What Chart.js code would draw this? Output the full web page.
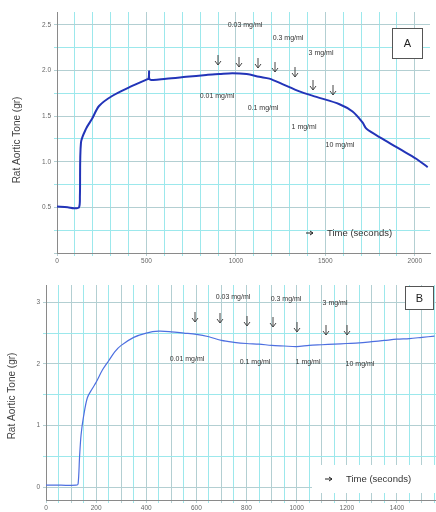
<!DOCTYPE html>
<html lang="en">
  <head>
    <meta charset="UTF-8" />
    <title>Rat aortic tone</title>
    <script src="https://cdn.jsdelivr.net/npm/chart.js"></script>
    <style>
      body { margin: 0; background: #fff; }
      .box { position: absolute; left: 0; width: 436px; }
      #boxA { top: 0; height: 268px; }
      #boxB { top: 270px; height: 242px; }
    </style>
  </head>
  <body>
    <div class="box" id="boxA"><canvas id="chartA"></canvas></div>
    <div class="box" id="boxB"><canvas id="chartB"></canvas></div>
    <script>
      // panel A : time (s) / tone (gr)
      const timeA = [0, 60, 95, 123, 128, 134, 162, 196, 235, 308, 420, 500, 512, 515, 520, 610, 722, 834, 907, 980, 1060, 1131, 1187, 1260, 1355, 1450, 1579, 1652, 1708, 1730, 1820, 1915, 2010, 2072];
      const toneA = [0.51, 0.5, 0.49, 0.5, 0.62, 1.21, 1.36, 1.47, 1.61, 1.72, 1.83, 1.9, 1.91, 1.99, 1.9, 1.91, 1.93, 1.95, 1.96, 1.97, 1.96, 1.93, 1.91, 1.85, 1.77, 1.71, 1.63, 1.55, 1.43, 1.36, 1.25, 1.14, 1.03, 0.94];
      // panel B
      const timeB = [0, 60, 120, 128, 134, 140, 150, 165, 185, 200, 225, 250, 275, 300, 350, 400, 450, 500, 550, 600, 650, 700, 750, 800, 850, 900, 950, 1000, 1050, 1100, 1150, 1200, 1250, 1300, 1350, 1400, 1450, 1500, 1550];
      const toneB = [0.03, 0.03, 0.03, 0.05, 0.5, 0.85, 1.15, 1.45, 1.6, 1.7, 1.9, 2.05, 2.2, 2.3, 2.43, 2.5, 2.53, 2.52, 2.5, 2.48, 2.44, 2.38, 2.35, 2.33, 2.32, 2.3, 2.29, 2.28, 2.3, 2.31, 2.32, 2.33, 2.34, 2.36, 2.38, 2.4, 2.41, 2.43, 2.45];

      const doseTopA = ["0.03 mg/ml", "0.3 mg/ml", "3 mg/ml"];
      const doseLowA = ["0.01 mg/ml", "0.1 mg/ml", "1 mg/ml", "10 mg/ml"];
      const doseTopB = ["0.03 mg/ml", "0.3 mg/ml", "3 mg/ml"];
      const doseLowB = ["0.01 mg/ml", "0.1 mg/ml", "1 mg/ml", "10 mg/ml"];

      const toPts = (xs, ys) => xs.map((x, i) => ({ x: x, y: ys[i] }));

      // annotation layout (canvas pixels)
      const annA = {
        top: [[245, 25], [288, 38], [321, 53]],
        low: [[217, 96], [263, 108], [304, 127], [340, 145]],
        arrows: [[218, 60], [239, 62], [258, 63], [275, 67], [295, 72], [313, 85], [333, 90]],
        panel: { label: "A", x: 392, y: 28, w: 30, h: 30 },
        time: { x: 306, y: 233, clear: false },
        title: { x: 17, y: 140 },
      };
      const annB = {
        top: [[233, 27], [286, 29], [335, 33]],
        low: [[187, 89], [255, 92], [308, 92], [360, 94]],
        arrows: [[195, 47], [220, 48], [247, 51], [273, 52], [297, 57], [326, 60], [347, 60]],
        panel: { label: "B", x: 405, y: 16, w: 28, h: 23 },
        time: { x: 325, y: 209, clear: true },
        title: { x: 12, y: 126 },
      };

      const annotate = (ann, tops, lows) => ({
        id: "notes",
        afterDraw(chart) {
          const c = chart.ctx;
          c.save();
          c.fillStyle = "#333";
          c.font = "7px 'Liberation Sans'";
          c.textAlign = "center";
          c.textBaseline = "middle";
          ann.top.forEach((p, i) => c.fillText(tops[i], p[0], p[1]));
          ann.low.forEach((p, i) => c.fillText(lows[i], p[0], p[1]));
          c.strokeStyle = "#444";
          c.lineWidth = 1;
          ann.arrows.forEach((p) => {
            c.beginPath();
            c.moveTo(p[0], p[1] - 5);
            c.lineTo(p[0], p[1] + 5);
            c.moveTo(p[0] - 3, p[1] + 1);
            c.lineTo(p[0], p[1] + 5);
            c.lineTo(p[0] + 3, p[1] + 1);
            c.stroke();
          });
          const b = ann.panel;
          c.fillStyle = "#fff";
          c.fillRect(b.x, b.y, b.w, b.h);
          c.strokeStyle = "#555";
          c.strokeRect(b.x + 0.5, b.y + 0.5, b.w, b.h);
          c.fillStyle = "#222";
          c.font = "11px 'Liberation Sans'";
          c.fillText(b.label, b.x + b.w / 2 + 0.5, b.y + b.h / 2 + 1);
          const t = ann.time;
          if (t.clear) {
            c.fillStyle = "#fff";
            c.fillRect(t.x - 13, t.y - 14, 124, 28);
          }
          c.strokeStyle = "#222";
          c.beginPath();
          c.moveTo(t.x, t.y);
          c.lineTo(t.x + 7, t.y);
          c.moveTo(t.x + 4, t.y - 2);
          c.lineTo(t.x + 7, t.y);
          c.lineTo(t.x + 4, t.y + 2);
          c.stroke();
          c.fillStyle = "#333";
          c.font = "9.5px 'Liberation Sans'";
          c.textAlign = "left";
          c.fillText("Time (seconds)", t.x + 21, t.y);
          // y axis title
          c.translate(ann.title.x, ann.title.y);
          c.rotate(-Math.PI / 2);
          c.textAlign = "center";
          c.fillStyle = "#444";
          c.font = "10px 'Liberation Sans'";
          c.fillText("Rat Aortic Tone (gr)", 0, 0);
          c.restore();
        },
      });

      const gridColor = (major) => (ctx) =>
        ctx.tick && Math.abs(ctx.tick.value / major - Math.round(ctx.tick.value / major)) < 1e-6 ? "#b3cfd2" : "#9ce8ec";

      const makeChart = (id, pts, line, width, xs, ys, ann, tops, lows) =>
        new Chart(document.getElementById(id), {
          type: "line",
          data: {
            datasets: [
              {
                data: pts,
                borderColor: line,
                borderWidth: width,
                pointRadius: 0,
                tension: 0.3,
                fill: false,
              },
            ],
          },
          options: {
            responsive: true,
            maintainAspectRatio: false,
            animation: false,
            layout: { padding: ys.pad },
            plugins: { legend: { display: false }, tooltip: { enabled: false } },
            scales: {
              x: {
                type: "linear",
                min: xs.min,
                max: xs.max,
                afterFit: (s) => (s.height = xs.h),
                grid: { color: gridColor(xs.major), tickLength: 3, lineWidth: 1 },
                border: { color: "#8a8a8a" },
                ticks: {
                  stepSize: xs.step,
                  includeBounds: false,
                  autoSkip: false,
                  maxRotation: 0,
                  padding: 1,
                  color: "#666",
                  font: { size: 6.5, family: "Liberation Sans" },
                  callback: (v) => (Math.abs(v / xs.label - Math.round(v / xs.label)) < 1e-6 ? String(Math.round(v)) : ""),
                },
              },
              y: {
                min: ys.min,
                max: ys.max,
                afterFit: (s) => (s.width = ys.w),
                grid: { color: gridColor(ys.major), tickLength: 3, lineWidth: 1 },
                border: { color: "#8a8a8a" },
                ticks: {
                  stepSize: ys.step,
                  includeBounds: false,
                  autoSkip: false,
                  padding: 3,
                  color: "#666",
                  font: { size: 6.5, family: "Liberation Sans" },
                  callback: ys.fmt,
                },
              },
            },
          },
          plugins: [annotate(ann, tops, lows)],
        });

      makeChart(
        "chartA",
        toPts(timeA, toneA),
        "#2234b8",
        2,
        { min: 0, max: 2085, step: 100, label: 500, major: 500, h: 15 },
        {
          min: 0, max: 2.64, step: 0.25, major: 0.5, w: 57,
          pad: { top: 12, right: 6, left: 0, bottom: 0 },
          fmt: (v) => (v > 0 && Math.abs(v * 2 - Math.round(v * 2)) < 1e-6 ? v.toFixed(1) : ""),
        },
        annA, doseTopA, doseLowA
      );

      makeChart(
        "chartB",
        toPts(timeB, toneB),
        "#4d6fe0",
        1.2,
        { min: 0, max: 1556, step: 50, label: 200, major: 100, h: 12 },
        {
          min: -0.21, max: 3.28, step: 0.5, major: 1, w: 46,
          pad: { top: 15, right: 0, left: 0, bottom: 0 },
          fmt: (v) => (Math.abs(v - Math.round(v)) < 1e-6 ? String(Math.round(v)) : ""),
        },
        annB, doseTopB, doseLowB
      );
    </script>
  </body>
</html>
